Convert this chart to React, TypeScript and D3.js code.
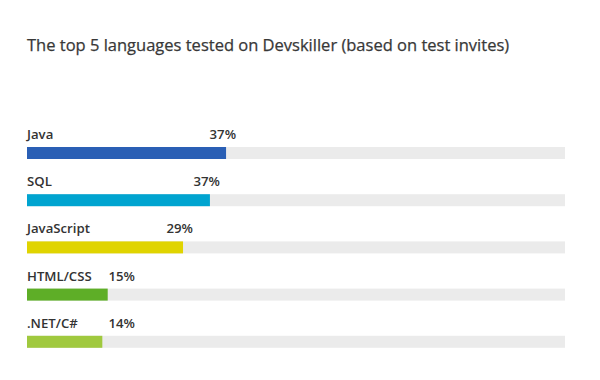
import React from "react";
import * as d3 from "d3";

const title = "The top 5 languages tested on Devskiller (based on test invites)";
const categories = ["Java", "SQL", "JavaScript", "HTML/CSS", ".NET/C#"];
const values = [37, 34, 29, 15, 14];
const valueLabels = ["37%", "37%", "29%", "15%", "14%"];
const colors = ["#2a5fb5", "#00a4d0", "#e0d400", "#5eae27", "#a0c93e"];

export default function App() {
  const width = 600;
  const height = 380;
  const x = d3.scaleLinear().domain([0, 100]).range([27, 565]);
  const y = d3.scaleBand<string>().domain(categories).range([124, 360]).paddingInner(0).paddingOuter(0);
  const barH = 12;
  const font = "'Open Sans', 'Noto Sans', sans-serif";
  return (
    <svg width={width} height={height} style={{ position: "absolute", left: 0, top: 0, background: "#fff" }}>
      <text x={27} y={51} fontFamily={font} fontSize={16.5} fill="#383838" stroke="#383838" strokeWidth={0.25}>{title}</text>
      {categories.map((c, i) => {
        const y0 = y(c)!;
        const barTop = y0 + 23;
        const end = x(values[i]);
        const lx = Math.max(end + 10, 135);
        return (
          <g key={c}>
            <text x={27} y={y0 + 15} fontFamily={font} fontSize={13.2} fontWeight={600} fill="#333">{c}</text>
            <text x={lx} y={y0 + 15} fontFamily={font} fontSize={13.2} fontWeight={600} fill="#333" textAnchor="end">{valueLabels[i]}</text>
            <rect x={x(0)} y={barTop} width={x(100) - x(0)} height={barH} fill="#ebebeb" />
            <rect x={x(0)} y={barTop} width={end - x(0)} height={barH} fill={colors[i]} />
          </g>
        );
      })}
    </svg>
  );
}
